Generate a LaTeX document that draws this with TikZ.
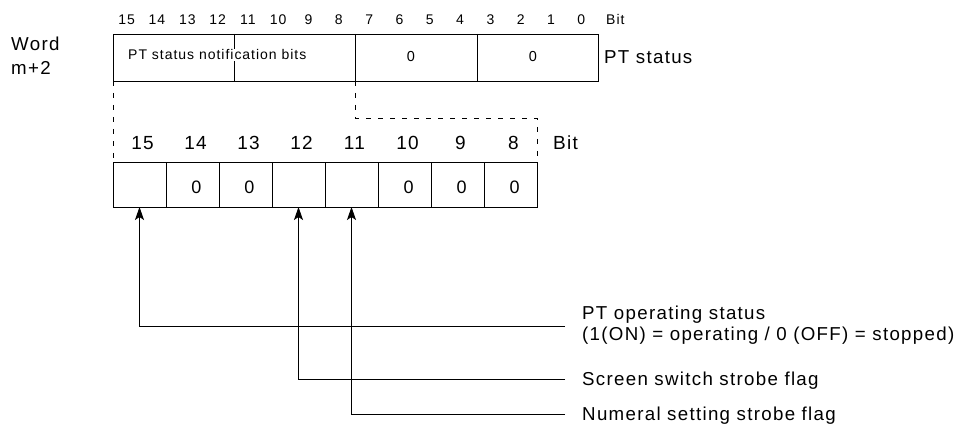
\documentclass[tikz,border=0pt]{standalone}
\usepackage{fontspec}
\setmainfont{Liberation Sans}[LetterSpace=7]
\usetikzlibrary{arrows.meta}
\begin{document}
\begin{tikzpicture}[x=1pt,y=-1pt,
  line/.style={draw=black,line width=0.9pt},
  dsh/.style={draw=black,line width=0.9pt,dash pattern=on 5pt off 7pt},
  topbit/.style={font=\fontsize{14}{16}\selectfont,inner sep=0pt,anchor=base},
  lowbit/.style={font=\fontsize{19}{22}\selectfont,inner sep=0pt,anchor=base},
  cellzero/.style={font=\fontsize{18}{20}\selectfont,inner sep=0pt,anchor=base},
  lbl/.style={font=\fontsize{18.7}{21}\selectfont,inner sep=0pt,anchor=base west},
  arr/.style={draw=black,line width=0.9pt,-{Stealth[length=13pt,width=9pt,inset=3pt]}}]
\useasboundingbox (0,0) rectangle (960,430);
% top word box
\draw[line] (113,34) rectangle (598,81);
\draw[line] (234,34) -- (234,81);
\draw[line] (355,34) -- (355,81);
\draw[line] (477,34) -- (477,81);
\node[font=\fontsize{14}{16}\selectfont,inner sep=1pt,fill=white,anchor=base west] (ntf) at (127,60) {PT status notification bits};
\node[cellzero,font=\fontsize{14.5}{16}\selectfont] (z74) at (411,62) {0};
\node[cellzero,font=\fontsize{14.5}{16}\selectfont] (z30) at (533,62) {0};
\foreach \i in {0,...,15} {
  \node[topbit] (tb\i) at ({113+(15-\i+0.5)*30.3125-1.5},25) {\i};
}
\node[topbit,anchor=base west] (tbit) at (606,25) {Bit};
\node[lbl] (pts) at (604,64) {PT status};
\node[lbl] (word) at (11,51) {Word};
\node[lbl] (mp2) at (11,75) {m+2};
% dashed connection
\coordinate (d1) at (113,81);
\coordinate (d2) at (113,162);
\coordinate (d3) at (355,81);
\coordinate (d4) at (355,118);
\coordinate (d5) at (537,118);
\coordinate (d6) at (537,162);
\draw[dsh] (d1) -- (d2);
\draw[dsh] (d3) -- (d4) -- (d5) -- (d6);
% lower box
\foreach \k in {0,...,7} {
  \pgfmathtruncatemacro{\b}{15-\k}
  \draw[line] ({113+\k*53},162) rectangle ({113+(\k+1)*53},207);
  \node[lowbit] (lb\b) at ({113+(\k+0.5)*53+3},150) {\b};
}
\coordinate (c15) at (139.5,207);
\coordinate (c12) at (298.5,207);
\coordinate (c11) at (351.5,207);
\foreach \k/\b in {1/14,2/13,5/10,6/9,7/8} {
  \node[cellzero] (z\b) at ({113+(\k+0.5)*53+4},194) {0};
}
\node[lowbit,anchor=base west] (lbit) at (553,150) {Bit};
% labels
\node[lbl] (t1) at (582,319) {PT operating status};
\node[lbl] (t1b) at (582,340) {(1(ON) = operating / 0 (OFF) = stopped)};
\node[lbl] (t2) at (582,385) {Screen switch strobe flag};
\node[lbl] (t3) at (582,420) {Numeral setting strobe flag};
\coordinate (e1) at (565,326);
\coordinate (e2) at (565,379);
\coordinate (e3) at (565,414);
\draw[arr] (e1) -| (c15);
\draw[arr] (e2) -| (c12);
\draw[arr] (e3) -| (c11);
\end{tikzpicture}
\end{document}
